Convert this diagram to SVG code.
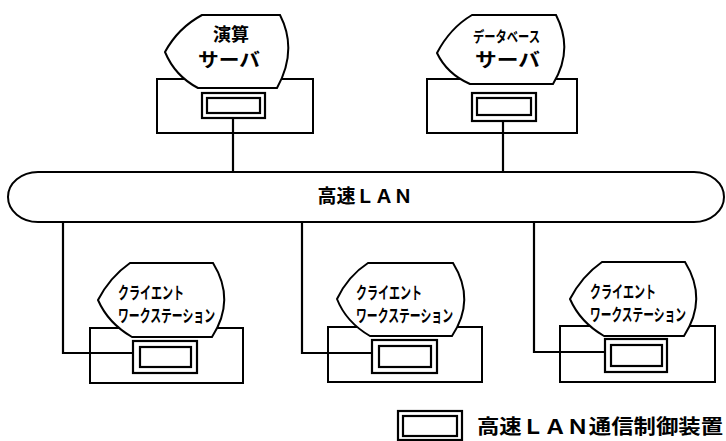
<svg xmlns="http://www.w3.org/2000/svg" width="726" height="441" viewBox="0 0 726 441">
<style>
.ln{fill:none;stroke:#000;stroke-width:2.2}
.box{fill:none;stroke:#000;stroke-width:2}
.disp{fill:#fff;stroke:#000;stroke-width:2}
.dev{fill:#fff;stroke:#000;stroke-width:2.2}
.t{font-family:"Noto Sans CJK JP","Noto Sans",sans-serif;font-weight:bold;fill:#000}
</style>
<rect width="726" height="441" fill="#fff"/>
<g id="lan">
<rect x="8" y="172" width="716" height="50" rx="30" ry="25" class="box"/>
<text class="t" x="365" y="203" font-size="19" text-anchor="middle">高速ＬＡＮ</text>
</g>
<g id="server1">
<rect x="157" y="79" width="156" height="54" class="box"/>
<path class="disp" d="M202,15 L280,15 Q298,50 277,88 L198,88 Q175,76 165,52 Q178,28 202,15 Z"/>
<text class="t" x="231" y="41" font-size="18" text-anchor="middle">演算</text>
<text class="t" x="229" y="67" font-size="19" text-anchor="middle" textLength="62" lengthAdjust="spacingAndGlyphs">サーバ</text>
<rect x="202" y="93" width="63" height="25" class="dev"/>
<rect x="207" y="98" width="53" height="15" class="dev"/>
</g>
<g id="server2">
<rect x="427" y="79" width="150" height="54" class="box"/>
<path class="disp" d="M472,15 L556,15 Q574,50 553,84 L470,84 Q447,74 437,53 Q450,28 472,15 Z"/>
<text class="t" x="473" y="42" font-size="15" textLength="67" lengthAdjust="spacingAndGlyphs">データベース</text>
<text class="t" x="475" y="67" font-size="19" textLength="65" lengthAdjust="spacingAndGlyphs">サーバ</text>
<rect x="472" y="93" width="64" height="28" class="dev"/>
<rect x="477" y="98" width="54" height="17" class="dev"/>
</g>
<g id="client1">
<rect x="90" y="328" width="153" height="55" class="box"/>
<path class="disp" d="M130,263 L213,263 Q236,300 212,337 L132,337 Q108,323 98,300 Q110,277 130,263 Z"/>
<text class="t" x="118" y="299" font-size="17" textLength="66" lengthAdjust="spacingAndGlyphs">クライエント</text>
<text class="t" x="215" y="322" font-size="17" text-anchor="end" textLength="97" lengthAdjust="spacingAndGlyphs">ワークステーション</text>
<rect x="133" y="341" width="64" height="32" class="dev"/>
<rect x="140" y="347" width="51" height="20" class="dev"/>
</g>
<g id="client2">
<rect x="328" y="327" width="154" height="55" class="box"/>
<path class="disp" d="M368,263 L453,263 Q476,300 452,336 L370,336 Q346,322 337,299 Q348,276 368,263 Z"/>
<text class="t" x="356" y="299" font-size="17" textLength="66" lengthAdjust="spacingAndGlyphs">クライエント</text>
<text class="t" x="453" y="322" font-size="17" text-anchor="end" textLength="97" lengthAdjust="spacingAndGlyphs">ワークステーション</text>
<rect x="372" y="340" width="65" height="33" class="dev"/>
<rect x="379" y="346" width="52" height="21" class="dev"/>
</g>
<g id="client3">
<rect x="560" y="326" width="155" height="56" class="box"/>
<path class="disp" d="M602,262 L685,262 Q708,299 684,336 L604,336 Q580,322 570,299 Q582,276 602,262 Z"/>
<text class="t" x="590" y="298" font-size="17" textLength="66" lengthAdjust="spacingAndGlyphs">クライエント</text>
<text class="t" x="686" y="321" font-size="17" text-anchor="end" textLength="96" lengthAdjust="spacingAndGlyphs">ワークステーション</text>
<rect x="605" y="339" width="62" height="33" class="dev"/>
<rect x="611" y="345" width="51" height="21" class="dev"/>
</g>
<g id="legend">
<rect x="398" y="411" width="64" height="29" class="dev"/>
<rect x="403" y="416" width="54" height="20" class="dev"/>
<text class="t" x="477" y="434" font-size="20" textLength="246" lengthAdjust="spacingAndGlyphs">高速ＬＡＮ通信制御装置</text>
</g>
<g id="connectors">
<path class="ln" d="M233,118 V172"/>
<path class="ln" d="M503,121 V172"/>
<path class="ln" d="M63,222 V353 H133"/>
<path class="ln" d="M302,222 V353 H372"/>
<path class="ln" d="M534,222 V352 H605"/>
</g>
</svg>
